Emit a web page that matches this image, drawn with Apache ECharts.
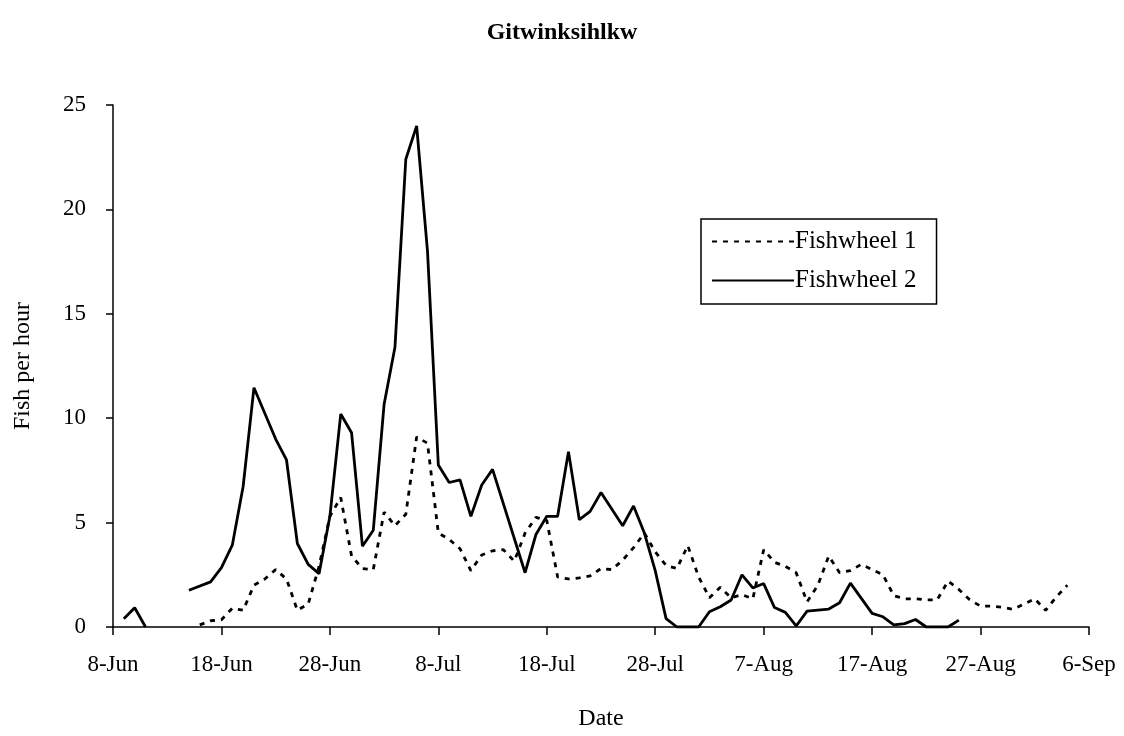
<!DOCTYPE html>
<html>
<head>
<meta charset="utf-8">
<script src="https://cdn.jsdelivr.net/npm/echarts@6/dist/echarts.min.js"></script>
<style>
  html, body { margin: 0; padding: 0; background: #fff; }
  #chart { width: 1124px; height: 736px; }
</style>
</head>
<body>
<div id="chart"></div>
<script>
// days counted from 8-Jun
const tickLabels = ['8-Jun', '18-Jun', '28-Jun', '8-Jul', '18-Jul', '28-Jul', '7-Aug', '17-Aug', '27-Aug', '6-Sep']

const fw1Days = [8, 9, 10, 11, 12, 13, 14, 15, 16, 17, 18, 19, 20, 21, 22, 23, 24, 25, 26, 27, 28, 29, 30,
    31, 32, 33, 34, 35, 36, 37, 38, 39, 40, 41, 42, 43, 44, 45, 46, 47, 48, 49, 50, 51, 52, 53, 54, 55, 56,
    57, 58, 59, 60, 61, 62, 63, 64, 65, 66, 67, 68, 69, 70, 71, 72, 73, 74, 75, 76, 77, 78, 79, 80, 81, 82,
    83, 84, 85, 86, 87, 88]
const fw1Values = [0.1, 0.3, 0.35, 0.9, 0.8, 2.0, 2.3, 2.75, 2.3, 0.8, 1.1, 2.9, 5.3, 6.2, 3.4, 2.8, 2.75,
    5.5, 4.85, 5.4, 9.1, 8.8, 4.5, 4.2, 3.75, 2.7, 3.45, 3.65, 3.7, 3.15, 4.5, 5.25, 5.1, 2.4, 2.3, 2.35,
    2.45, 2.8, 2.75, 3.2, 3.8, 4.5, 3.6, 2.95, 2.8, 3.9, 2.4, 1.4, 1.9, 1.4, 1.55, 1.35, 3.7, 3.1, 2.9, 2.6,
    1.2, 2.0, 3.4, 2.6, 2.7, 3.0, 2.75, 2.5, 1.5, 1.35, 1.35, 1.3, 1.3, 2.2, 1.8, 1.3, 1.0, 1.0, 0.95,
    0.85, 1.1, 1.35, 0.8, 1.45, 2.0]

// null at day 4 = gap in the record
const fw2Days = [1, 2, 3, 4, 7, 9, 10, 11, 12, 13, 15, 16, 17, 18, 19, 20, 21, 22, 23, 24, 25, 26, 27, 28,
    29, 30, 31, 32, 33, 34, 35, 38, 39, 40, 41, 42, 43, 44, 45, 47, 48, 49, 50, 51, 52, 53, 54, 55, 56, 57,
    58, 59, 60, 61, 62, 63, 64, 66, 67, 68, 70, 71, 72, 73, 74, 75, 77, 78]
const fw2Values = [0.4, 0.92, 0, null, 1.76, 2.16, 2.84, 3.92, 6.73, 11.46, 9.0, 8.0, 4.0, 3.0, 2.55, 5.3,
    10.2, 9.3, 3.87, 4.63, 10.67, 13.4, 22.4, 24.0, 18.0, 7.76, 6.92, 7.05, 5.3, 6.8, 7.55, 2.6, 4.43, 5.3,
    5.3, 8.4, 5.14, 5.54, 6.44, 4.85, 5.8, 4.5, 2.7, 0.4, 0, 0, 0, 0.73, 0.97, 1.29, 2.5, 1.87, 2.08, 0.93,
    0.7, 0.05, 0.76, 0.86, 1.16, 2.1, 0.65, 0.49, 0.1, 0.16, 0.36, 0, 0, 0.33]

const FONT = '"Liberation Serif", "Times New Roman", serif'

const pairs = (days, values) => days.map((d, i) => [d, values[i]])

const chart = echarts.init(document.getElementById('chart'), null, { renderer: 'canvas' })

chart.setOption({
    animation: false,
    backgroundColor: '#fff',
    title: {
        text: 'Gitwinksihlkw',
        left: 'center',
        top: 16,
        textStyle: { fontFamily: FONT, fontSize: 24, fontWeight: 'bold', color: '#000' }
    },
    legend: {
        orient: 'vertical',
        left: 701,
        top: 219,
        padding: [10, 20, 11, 10],
        itemGap: 14,
        itemWidth: 82,
        itemHeight: 20,
        borderColor: '#000',
        borderWidth: 1.5,
        itemStyle: { opacity: 0 },
        textStyle: { fontFamily: FONT, fontSize: 25, color: '#000', padding: [0, 0, 0, -4] },
        data: ['Fishwheel 1', 'Fishwheel 2']
    },
    grid: { left: 113, right: 35, top: 105, bottom: 108 },
    xAxis: {
        type: 'value',
        min: 0,
        max: 90,
        interval: 10,
        name: 'Date',
        nameLocation: 'middle',
        nameGap: 80,
        nameTextStyle: { fontFamily: FONT, fontSize: 24, color: '#000' },
        axisLine: { lineStyle: { color: '#000', width: 1.5 } },
        axisTick: { show: true, length: 8, inside: false, lineStyle: { color: '#000', width: 1.5 } },
        axisLabel: {
            margin: 26,
            fontFamily: FONT,
            fontSize: 23,
            color: '#000',
            formatter: v => tickLabels[Math.round(v / 10)]
        },
        splitLine: { show: false }
    },
    yAxis: {
        type: 'value',
        min: 0,
        max: 25,
        interval: 5,
        name: 'Fish per hour',
        nameLocation: 'middle',
        nameGap: 78,
        nameTextStyle: { fontFamily: FONT, fontSize: 24, color: '#000' },
        axisLine: { show: true, lineStyle: { color: '#000', width: 1.5 } },
        axisTick: { show: true, length: 7, lineStyle: { color: '#000', width: 1.5 } },
        axisLabel: { margin: 27, fontFamily: FONT, fontSize: 23, color: '#000' },
        splitLine: { show: false }
    },
    series: [
        {
            name: 'Fishwheel 1',
            type: 'line',
            data: pairs(fw1Days, fw1Values),
            showSymbol: false,
            symbol: 'none',
            color: '#000',
            lineStyle: { color: '#000', width: 2.8, type: [5, 6] }
        },
        {
            name: 'Fishwheel 2',
            type: 'line',
            data: pairs(fw2Days, fw2Values),
            showSymbol: false,
            symbol: 'none',
            connectNulls: false,
            color: '#000',
            lineStyle: { color: '#000', width: 2.8 }
        }
    ]
})
</script>
</body>
</html>
